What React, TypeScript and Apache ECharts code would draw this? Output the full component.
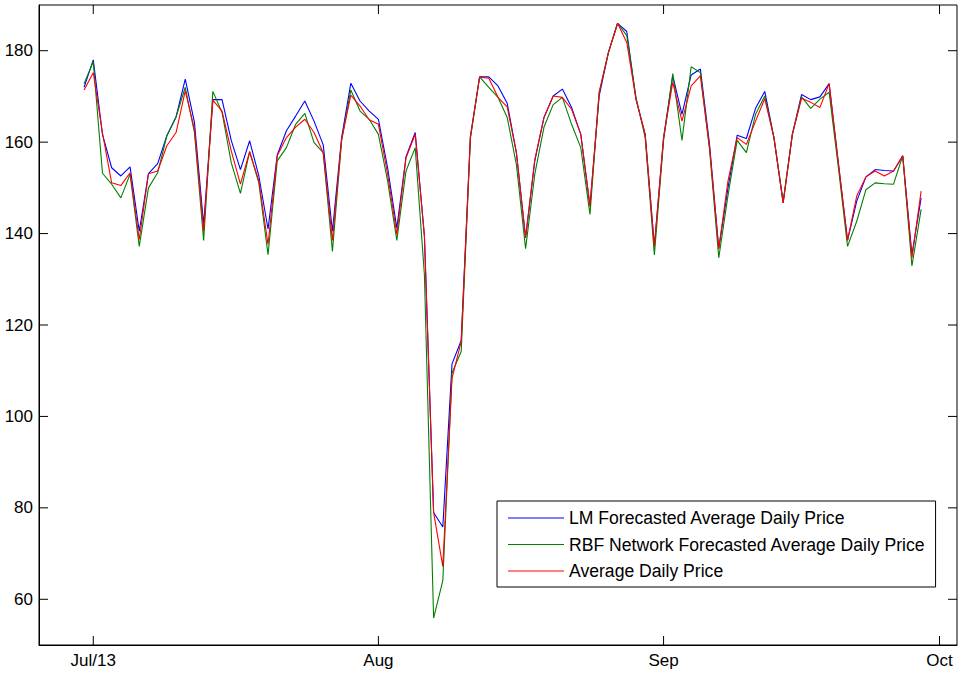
import React, { useEffect, useRef } from "react";
import * as echarts from "echarts";

// Day offsets from Jul 1 2013 (first point Jun 30, last Sep 29)
const startDay = -1;
const tickDays = [0, 31, 62, 92];
const tickLabels = ["Jul/13", "Aug", "Sep", "Oct"];
const yTicks = [60, 80, 100, 120, 140, 160, 180];

const lmForecast = [
  172.0, 178.0, 161.7, 154.4, 152.6, 154.6, 140.5, 153.1, 155.3, 161.4, 165.5, 173.8, 164.3, 142.0, 169.3, 169.3,
  160.4, 154.0, 160.3, 152.6, 141.0, 157.2, 162.5, 165.7, 169.0, 164.6, 159.4, 140.5, 161.0, 172.9, 169.0, 166.8,
  165.0, 154.4, 141.2, 156.8, 162.1, 139.5, 79.0, 75.8, 111.5, 116.6, 161.2, 174.3, 174.3, 172.3, 168.5, 157.7,
  139.1, 155.9, 165.4, 170.1, 171.6, 167.6, 161.7, 146.0, 170.1, 179.6, 186.0, 184.2, 169.4, 161.7, 137.2, 161.0,
  174.5, 166.1, 174.7, 176.0, 159.5, 136.7, 150.0, 161.5, 160.8, 167.4, 171.1, 161.0, 146.7, 161.7, 170.4, 169.3,
  169.9, 172.8, 155.5, 138.5, 147.1, 152.4, 154.0, 153.8, 153.7, 157.0, 135.4, 147.8,
];

const rbfForecast = [
  172.8, 177.6, 153.2, 150.8, 147.8, 153.0, 137.2, 150.0, 153.3, 161.4, 165.5, 172.0, 162.1, 138.5, 171.1, 166.5,
  155.5, 148.8, 157.9, 151.1, 135.4, 155.9, 158.8, 163.9, 166.3, 159.9, 157.7, 136.1, 160.3, 171.4, 166.8, 165.0,
  161.7, 151.5, 138.5, 153.7, 158.8, 131.0, 55.9, 64.1, 109.5, 114.2, 160.8, 174.3, 172.0, 169.8, 165.4, 155.1,
  136.7, 153.0, 163.3, 168.2, 169.8, 163.9, 158.8, 144.2, 170.9, 179.6, 186.0, 183.3, 169.8, 161.0, 135.3, 160.3,
  175.0, 160.4, 176.5, 175.2, 158.4, 134.7, 148.3, 160.4, 157.7, 166.1, 170.1, 161.0, 147.0, 161.7, 169.9, 167.4,
  169.4, 170.9, 154.5, 137.2, 142.7, 149.6, 151.1, 150.9, 150.8, 157.0, 132.9, 145.3,
];

const averagePrice = [
  171.4, 175.2, 162.0, 151.1, 150.5, 153.3, 138.7, 153.1, 153.7, 159.2, 162.1, 171.2, 162.8, 140.5, 169.2, 166.8,
  158.1, 150.8, 157.9, 151.5, 137.6, 157.0, 161.0, 163.3, 165.0, 162.1, 157.7, 138.5, 160.6, 170.3, 167.9, 164.9,
  163.9, 153.0, 139.8, 156.6, 161.7, 139.5, 79.0, 67.2, 108.3, 116.4, 161.2, 174.2, 174.0, 169.8, 167.7, 157.7,
  139.1, 156.2, 165.4, 170.1, 169.8, 167.2, 161.7, 146.0, 170.9, 179.6, 186.0, 181.8, 169.4, 161.7, 137.2, 161.0,
  173.1, 164.6, 172.3, 174.5, 158.8, 136.7, 151.5, 161.0, 159.5, 164.6, 169.5, 161.0, 146.7, 161.7, 169.6, 168.7,
  167.6, 172.8, 155.5, 138.5, 148.2, 152.4, 153.7, 152.6, 153.7, 157.0, 134.7, 149.3,
];

const seriesNames = [
  "LM Forecasted Average Daily Price",
  "RBF Network Forecasted Average Daily Price",
  "Average Daily Price",
];
const seriesColors = ["#0000ff", "#008000", "#ff0000"];

const FONT = "'Liberation Sans', Arial, sans-serif";
const GRID = { left: 39, right: 8, top: 5, bottom: 29 };
const W = 965;
const H = 674;
const TICK = 9;

export default function App() {
  const ref = useRef<HTMLDivElement>(null);
  useEffect(() => {
    if (!ref.current) return;
    const chart = echarts.init(ref.current, undefined, { renderer: "svg" });
    const toPairs = (arr: number[]) => arr.map((v, i) => [startDay + i, v]);
    const allData = [lmForecast, rbfForecast, averagePrice];
    const labelMap: Record<number, string> = {};
    tickDays.forEach((d, i) => (labelMap[d] = tickLabels[i]));
    const axisLine = { show: true, onZero: false, lineStyle: { color: "#000", width: 1 } };
    chart.setOption({
      animation: false,
      backgroundColor: "#fff",
      grid: {
        ...GRID,
        containLabel: false,
        show: true,
        borderColor: "#000",
        borderWidth: 1,
        backgroundColor: "transparent",
      },
      xAxis: {
        type: "value",
        min: -5.9,
        max: 93.9,
        position: "bottom",
        axisLine,
        axisTick: { show: false },
        axisLabel: {
          customValues: tickDays,
          formatter: (v: number) => labelMap[Math.round(v)] ?? "",
          color: "#000",
          fontSize: 17,
          fontFamily: FONT,
          margin: 7,
        },
        splitLine: { show: false },
      },
      yAxis: {
        type: "value",
        min: 50,
        max: 190,
        position: "left",
        axisLine,
        axisTick: { show: false },
        axisLabel: {
          customValues: yTicks,
          color: "#000",
          fontSize: 17,
          fontFamily: FONT,
          margin: 6,
        },
        splitLine: { show: false },
      },
      legend: {
        orient: "vertical",
        left: 497,
        top: 501,
        backgroundColor: "#fff",
        borderColor: "#000",
        borderWidth: 1,
        borderRadius: 0,
        padding: [8, 10, 7, 11],
        itemGap: 8.5,
        itemWidth: 56,
        itemHeight: 1.2,
        icon: "rect",
        textStyle: { color: "#000", fontSize: 17.6, fontFamily: FONT },
        data: seriesNames,
      },
      series: allData.map((arr, i) => ({
        name: seriesNames[i],
        type: "line",
        data: toPairs(arr),
        symbol: "none",
        showSymbol: false,
        lineStyle: { color: seriesColors[i], width: 1.1 },
        itemStyle: { color: seriesColors[i] },
        z: 2 + i,
      })),
    });

    // Inside tick marks on all four sides, positioned through the axes' scales
    const left = GRID.left;
    const right = W - GRID.right;
    const top = GRID.top;
    const bottom = H - GRID.bottom;
    const tickLines: any[] = [];
    const ls = { stroke: "#000", lineWidth: 1 };
    tickDays.forEach((d) => {
      const x = chart.convertToPixel({ xAxisIndex: 0 }, d) as number;
      tickLines.push({ type: "line", shape: { x1: x, y1: bottom, x2: x, y2: bottom - TICK }, style: ls, silent: true });
      tickLines.push({ type: "line", shape: { x1: x, y1: top, x2: x, y2: top + TICK }, style: ls, silent: true });
    });
    yTicks.forEach((v) => {
      const y = chart.convertToPixel({ yAxisIndex: 0 }, v) as number;
      tickLines.push({ type: "line", shape: { x1: left, y1: y, x2: left + TICK, y2: y }, style: ls, silent: true });
      tickLines.push({ type: "line", shape: { x1: right, y1: y, x2: right - TICK, y2: y }, style: ls, silent: true });
    });
    chart.setOption({ graphic: { elements: tickLines } });

    return () => chart.dispose();
  }, []);
  return (
    <div
      ref={ref}
      style={{ width: W, height: H, position: "absolute", left: 0, top: 0, background: "#fff" }}
    />
  );
}
